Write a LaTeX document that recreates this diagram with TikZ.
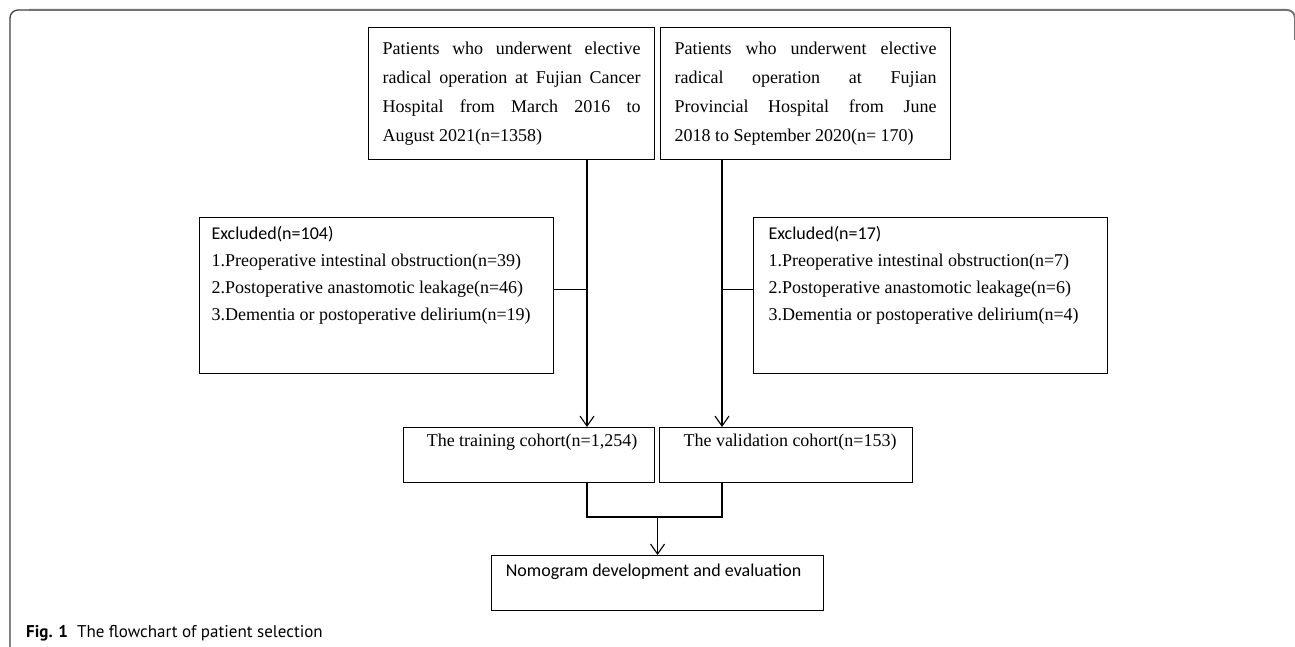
\documentclass[tikz,border=0pt]{standalone}
\usepackage{fontspec}
\setmainfont{Liberation Serif}
\newfontfamily\calfont{Carlito}
\newfontfamily\capfont{PT Sans}
\usetikzlibrary{arrows.meta,calc}
\newcommand{\topfont}{\fontsize{18}{29}\selectfont}
\newcommand{\exfont}{\fontsize{18}{27}\selectfont}
\newcommand{\cofont}{\fontsize{18}{22}\selectfont}
\begin{document}
\begin{tikzpicture}[x=1pt,y=-1pt,
  box/.style={draw, line width=1.1pt, inner sep=0pt},
  ln/.style={line width=1.1pt},
  arr/.style={line width=1.1pt, -{Straight Barb[length=10pt,width=14pt,line width=1.1pt]}}]
\useasboundingbox (0,0) rectangle (1295,647);
% frame
\draw[line width=1.3pt, color=black!75, rounded corners=8pt] (10,647) -- (10,10) -- (30,10);
\draw[line width=2pt, color=black!55, rounded corners=8pt] (29,10) -- (1295,10) -- (1295,40);
% top boxes
\node[box, anchor=north west] (b1) at (368,27)
  {\parbox[c][132pt][c]{286pt}{\topfont\leftskip=14pt\rightskip=14pt
   Patients who underwent elective\linebreak radical operation at Fujian Cancer\linebreak Hospital from March 2016 to\linebreak August 2021(n=1358)}};
\node[box, anchor=north west] (b2) at (660,27)
  {\parbox[c][132pt][c]{290pt}{\topfont\leftskip=14pt\rightskip=14pt
   Patients who underwent elective\linebreak radical operation at Fujian\linebreak Provincial Hospital from June\linebreak 2018 to September 2020(n= 170)}};
% exclusion boxes
\node[box, anchor=north west] (ex1) at (199,217)
  {\parbox[c][156pt][t]{354pt}{\exfont\vspace*{9pt}\leftskip=12pt
   {\calfont Excluded(n=104)}\\
   1.Preoperative intestinal obstruction(n=39)\\
   2.Postoperative anastomotic leakage(n=46)\\
   3.Dementia or postoperative delirium(n=19)}};
\node[box, anchor=north west] (ex2) at (753,217)
  {\parbox[c][156pt][t]{354pt}{\exfont\vspace*{9pt}\leftskip=15pt
   {\calfont Excluded(n=17)}\\
   1.Preoperative intestinal obstruction(n=7)\\
   2.Postoperative anastomotic leakage(n=6)\\
   3.Dementia or postoperative delirium(n=4)}};
% cohorts
\node[box, anchor=north west] (tr) at (403,427)
  {\parbox[c][55pt][t]{251pt}{\cofont\centering\vspace*{6pt}\hspace*{6pt}The training cohort(n=1,254)\par}};
\node[box, anchor=north west] (va) at (659,427)
  {\parbox[c][55pt][t]{253pt}{\cofont\centering\vspace*{6pt}\hspace*{8pt}The validation cohort(n=153)\par}};
% nomogram
\node[box, anchor=north west] (nom) at (491,555)
  {\parbox[c][55pt][t]{332pt}{\cofont\calfont\centering\vspace*{8pt}Nomogram development and evaluation\hspace*{8pt}\par}};
% caption
\node[anchor=base west, inner sep=0pt] (cap) at (26,637)
  {\capfont\fontsize{17}{20}\selectfont\textbf{Fig. 1}\hspace{9pt}The flowchart of patient selection};
% connector coordinates
\coordinate (cl) at (587,0);
\coordinate (cr) at (722,0);
\coordinate (jn) at (0,517);
% main flows
\draw[arr] (b1.south -| cl) -- (tr.north -| cl);
\draw[arr] (b2.south -| cr) -- (va.north -| cr);
% exclusion branches
\coordinate (e1) at ($(ex1.north east)!0.46!(ex1.south east)$);
\coordinate (e2) at ($(ex2.north west)!0.46!(ex2.south west)$);
\draw[ln] (e1) -- (e1 -| cl);
\draw[ln] (e2) -- (e2 -| cr);
% merge
\draw[ln] (tr.south -| cl) -- (cl |- jn) -- (cr |- jn) -- (va.south -| cr);
\draw[arr] (nom.north |- jn) -- (nom.north);
\end{tikzpicture}
\end{document}
